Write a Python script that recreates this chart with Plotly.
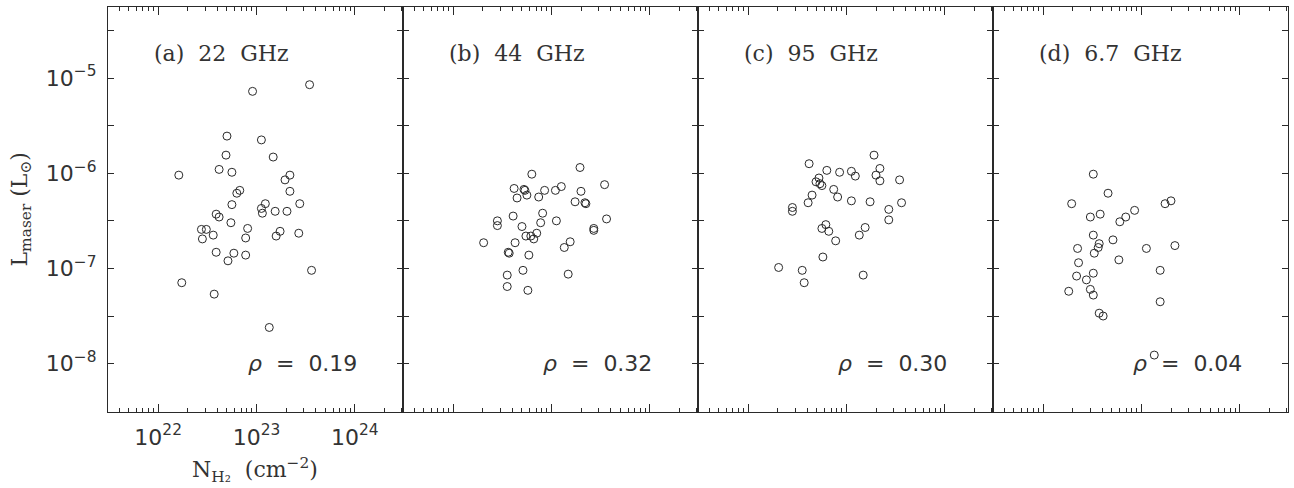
import numpy as np
import plotly.graph_objects as go

# log10 values
logN_22 = [22.70, 23.05, 22.69, 23.17, 22.21, 22.62, 22.75, 23.29, 23.34, 22.83, 22.80, 23.34, 22.75, 23.09,
           23.44, 23.05, 23.06, 23.19, 23.31, 22.59, 22.62, 22.74, 22.44, 22.49, 22.45, 22.56, 22.91, 22.89,
           23.24, 23.20, 23.43, 22.59, 22.77, 22.89, 22.71, 23.56, 22.24, 22.57, 23.13, 22.96, 23.54]
logL_22 = [-5.61, -5.65, -5.81, -5.83, -6.02, -5.96, -5.99, -6.07, -6.02, -6.18, -6.21, -6.19, -6.33, -6.32,
           -6.32, -6.37, -6.42, -6.40, -6.40, -6.43, -6.46, -6.52, -6.59, -6.59, -6.69, -6.65, -6.58, -6.68,
           -6.61, -6.66, -6.63, -6.83, -6.84, -6.86, -6.92, -7.02, -7.15, -7.27, -7.62, -5.14, -5.07]

logN_44 = [23.29, 22.80, 23.54, 22.62, 22.72, 22.73, 23.10, 23.04, 23.30, 22.93, 22.75, 22.65, 22.87, 23.24,
           23.34, 23.35, 22.91, 22.61, 22.45, 22.45, 22.89, 23.05, 23.56, 22.70, 23.43, 23.43, 22.85, 22.74,
           22.79, 22.82, 22.63, 22.31, 23.19, 23.13, 22.56, 22.57, 22.77, 22.71, 22.55, 23.17, 22.55, 22.76]
logL_44 = [-5.94, -6.01, -6.12, -6.16, -6.17, -6.18, -6.14, -6.18, -6.19, -6.18, -6.23, -6.26, -6.25, -6.30,
           -6.31, -6.32, -6.42, -6.45, -6.50, -6.55, -6.52, -6.50, -6.48, -6.56, -6.58, -6.60, -6.63, -6.66,
           -6.66, -6.69, -6.73, -6.73, -6.72, -6.78, -6.83, -6.84, -6.86, -7.02, -7.07, -7.06, -7.19, -7.23]

logN_95 = [23.28, 22.62, 23.34, 22.80, 22.93, 23.05, 23.30, 23.09, 22.72, 22.69, 22.73, 22.75, 23.34, 23.54,
           22.87, 22.65, 22.91, 22.61, 23.05, 23.24, 23.56, 22.45, 22.45, 23.43, 23.43, 22.79, 22.75, 22.82,
           23.19, 23.13, 22.89, 22.76, 22.31, 22.55, 22.57, 23.17]
logL_95 = [-5.81, -5.90, -5.95, -5.97, -5.99, -5.98, -6.02, -6.03, -6.05, -6.09, -6.11, -6.13, -6.08, -6.07,
           -6.17, -6.23, -6.25, -6.31, -6.29, -6.30, -6.31, -6.36, -6.40, -6.38, -6.49, -6.54, -6.58, -6.61,
           -6.57, -6.65, -6.71, -6.88, -6.99, -7.02, -7.15, -7.07]

logN_67 = [22.51, 22.66, 22.29, 23.30, 23.24, 22.93, 22.58, 22.48, 22.84, 22.78, 22.51, 22.71, 22.57, 22.56,
           22.35, 23.05, 23.34, 22.52, 22.77, 22.36, 23.19, 22.51, 22.34, 22.44, 22.48, 22.26, 22.51, 23.19,
           22.57, 22.61, 23.13]
logL_67 = [-6.01, -6.21, -6.32, -6.29, -6.32, -6.39, -6.43, -6.46, -6.46, -6.51, -6.65, -6.70, -6.74, -6.78,
           -6.79, -6.79, -6.76, -6.84, -6.91, -6.94, -7.02, -7.05, -7.08, -7.12, -7.22, -7.24, -7.28, -7.35,
           -7.47, -7.50, -7.91]

panel_labels = ["(a)\u00a0\u00a022\u00a0\u00a0GHz", "(b)\u00a0\u00a044\u00a0\u00a0GHz",
                "(c)\u00a0\u00a095\u00a0\u00a0GHz", "(d)\u00a0\u00a06.7\u00a0\u00a0GHz"]
rho_values = ["0.19", "0.32", "0.30", "0.04"]
x_tick_vals = [1e22, 1e23, 1e24]
x_tick_text = ["10<sup>22</sup>", "10<sup>23</sup>", "10<sup>24</sup>"]
y_tick_vals = [1e-8, 1e-7, 1e-6, 1e-5]
y_tick_text = ["10<sup>\u22128</sup>", "10<sup>\u22127</sup>", "10<sup>\u22126</sup>", "10<sup>\u22125</sup>"]

series = [(logN_22, logL_22), (logN_44, logL_44), (logN_95, logL_95), (logN_67, logL_67)]

INK = "#2a2a2a"
TXT = "#333333"
SERIF = "DejaVu Serif"
SANS = "DejaVu Sans"

fig = go.Figure()
for i, (lx, ly) in enumerate(series):
    k = "" if i == 0 else str(i + 1)
    fig.add_trace(go.Scatter(
        x=10 ** np.array(lx), y=10 ** np.array(ly), mode="markers",
        marker=dict(symbol="circle-open", size=8, color=INK, line=dict(width=1, color=INK)),
        xaxis="x" + k, yaxis="y" + k, showlegend=False, hoverinfo="skip"))

x_minor = [m * 10.0 ** e for e in (21, 22, 23, 24) for m in range(2, 10)]
y_minor = [10 ** v for v in (-8.5, -7.5, -6.5, -5.5, -4.5)]

layout = dict(
    width=1294, height=488,
    margin=dict(l=108, r=6, t=7, b=76, pad=0),
    paper_bgcolor="white", plot_bgcolor="white",
    showlegend=False,
)
annotations = []
for i in range(4):
    k = "" if i == 0 else str(i + 1)
    xa = dict(
        type="log", range=[21.49, 24.49], domain=[i * 0.25, (i + 1) * 0.25],
        anchor="y" + k, showgrid=False, zeroline=False,
        showline=True, linecolor=INK, linewidth=1.2, mirror="allticks",
        ticks="inside", ticklen=8, tickwidth=1, tickcolor=INK,
        tickvals=x_tick_vals, ticktext=x_tick_text,
        showticklabels=(i == 0), ticklabelstandoff=5,
        tickfont=dict(family=SANS, size=22, color=TXT),
        minor=dict(tickvals=x_minor, ticks="inside", ticklen=4, tickwidth=1, tickcolor=INK, showgrid=False),
    )
    ya = dict(
        type="log", range=[-8.508, -4.254], domain=[0, 1],
        anchor="x" + k, showgrid=False, zeroline=False,
        showline=True, linecolor=INK, linewidth=1.2, mirror="allticks",
        ticks="inside", ticklen=6, tickwidth=1, tickcolor=INK,
        tickvals=y_tick_vals, ticktext=y_tick_text,
        showticklabels=(i == 0), ticklabelstandoff=6,
        tickfont=dict(family=SANS, size=22, color=TXT),
        minor=dict(tickvals=y_minor, ticks="inside", ticklen=6, tickwidth=1, tickcolor=INK, showgrid=False),
    )
    layout["xaxis" + k] = xa
    layout["yaxis" + k] = ya
    annotations.append(dict(
        text=panel_labels[i], xref="x" + k + " domain", yref="y" + k + " domain",
        x=44 / 295, y=(405 - 47) / 405, xanchor="left", yanchor="middle", showarrow=False,
        font=dict(family=SERIF, size=22, color=TXT)))
    annotations.append(dict(
        text="<i>\u03c1</i>\u00a0\u00a0=\u00a0\u00a0" + rho_values[i], xref="x" + k + " domain", yref="y" + k + " domain",
        x=(295 - 44) / 295, y=(405 - 356) / 405, xanchor="right", yanchor="middle", showarrow=False,
        font=dict(family=SANS, size=22, color=TXT)))

annotations.append(dict(
    text="L<sub>maser</sub>\u00a0(L<sub>\u2299</sub>)", xref="paper", yref="paper",
    x=-87 / 1180, y=0.5, xanchor="center", yanchor="middle", textangle=-90, showarrow=False,
    font=dict(family=SERIF, size=22, color=TXT)))
annotations.append(dict(
    text="N<sub>H\u2082</sub>\u00a0\u00a0(cm<sup>\u22122</sup>)", xref="paper", yref="paper",
    x=147 / 1180, y=-58 / 405, xanchor="center", yanchor="middle", showarrow=False,
    font=dict(family=SERIF, size=22, color=TXT)))
layout["annotations"] = annotations

fig.update_layout(**layout)
fig.write_html("out.html")
